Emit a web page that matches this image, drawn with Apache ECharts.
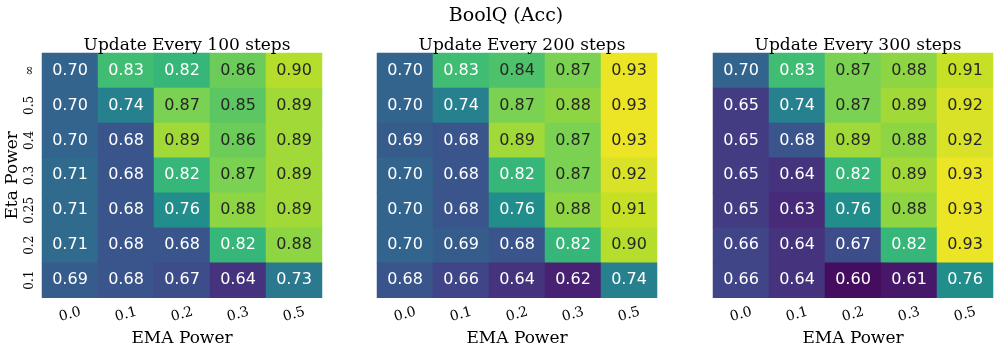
<!DOCTYPE html>
<html><head><meta charset="utf-8">
<script src="https://cdn.jsdelivr.net/npm/echarts@6/dist/echarts.min.js"></script>
<style>html,body{margin:0;padding:0;background:#fff}#c{width:997px;height:352px}</style>
</head><body><div id="c"></div>
<script>
const emaPowers = ['0.0','0.1','0.2','0.3','0.5'];
const etaPowers = ['∞','0.5','0.4','0.3','0.25','0.2','0.1']; // top to bottom
const panelTitles = ['Update Every 100 steps','Update Every 200 steps','Update Every 300 steps'];
const mainTitle = 'BoolQ (Acc)';
const every100 = [
  [0.70,0.83,0.82,0.86,0.90],
  [0.70,0.74,0.87,0.85,0.89],
  [0.70,0.68,0.89,0.86,0.89],
  [0.71,0.68,0.82,0.87,0.89],
  [0.71,0.68,0.76,0.88,0.89],
  [0.71,0.68,0.68,0.82,0.88],
  [0.69,0.68,0.67,0.64,0.73]
];
const every200 = [
  [0.70,0.83,0.84,0.87,0.93],
  [0.70,0.74,0.87,0.88,0.93],
  [0.69,0.68,0.89,0.87,0.93],
  [0.70,0.68,0.82,0.87,0.92],
  [0.70,0.68,0.76,0.88,0.91],
  [0.70,0.69,0.68,0.82,0.90],
  [0.68,0.66,0.64,0.62,0.74]
];
const every300 = [
  [0.70,0.83,0.87,0.88,0.91],
  [0.65,0.74,0.87,0.89,0.92],
  [0.65,0.68,0.89,0.88,0.92],
  [0.65,0.64,0.82,0.89,0.93],
  [0.65,0.63,0.76,0.88,0.93],
  [0.66,0.64,0.67,0.82,0.93],
  [0.66,0.64,0.60,0.61,0.76]
];
const panels = [every100, every200, every300];

const viridis = ['#440154','#482475','#414487','#355f8d','#2a788e','#21918c','#22a884','#44bf70','#7ad151','#bddf26','#fde725'];
const vmin = 0.588, vmax = 0.94;

function hex2rgb(h){return [parseInt(h.substr(1,2),16),parseInt(h.substr(3,2),16),parseInt(h.substr(5,2),16)];}
function colorAt(v){
  let t = (v - vmin)/(vmax - vmin); t = Math.max(0, Math.min(1, t));
  const p = t*(viridis.length-1); const i = Math.min(Math.floor(p), viridis.length-2); const f = p - i;
  const a = hex2rgb(viridis[i]), b = hex2rgb(viridis[i+1]);
  return a.map((c,k)=>c+(b[k]-c)*f);
}
function lum(rgb){
  const l = rgb.map(c=>{c/=255;return c<=0.03928?c/12.92:Math.pow((c+0.055)/1.055,2.4);});
  return 0.2126*l[0]+0.7152*l[1]+0.0722*l[2];
}

const gridLefts = [42, 377, 713];
const gridW = 280, gridTop = 53, gridH = 251;
const serif = 'DejaVu Serif';
const yCats = etaPowers.slice().reverse();

const grids = [], xAxes = [], yAxes = [], series = [], titles = [];
titles.push({text: mainTitle, left: 501, top: 2, textAlign: 'center',
  textStyle:{fontFamily: serif, fontSize: 19, fontWeight: 'normal', color: '#000'}});
panels.forEach((mat, p) => {
  grids.push({left: gridLefts[p], top: gridTop, width: gridW, height: gridH});
  titles.push({text: panelTitles[p], left: gridLefts[p] + gridW/2, top: 32, textAlign: 'center',
    textStyle:{fontFamily: serif, fontSize: 17, fontWeight: 'normal', color: '#000'}});
  xAxes.push({type: 'category', gridIndex: p, data: emaPowers,
    name: 'EMA Power', nameLocation: 'middle', nameGap: 25,
    nameTextStyle: {fontFamily: serif, fontSize: 17, color: '#000'},
    axisLine: {show: false}, axisTick: {show: false}, splitLine: {show: false},
    axisLabel: {interval: 0, fontFamily: serif, fontSize: 14, color: '#000', rotate: 15,
      align: 'center', verticalAlign: 'middle', margin: 17}});
  yAxes.push({type: 'category', gridIndex: p, data: yCats,
    name: p === 0 ? 'Eta Power' : '', nameLocation: 'middle', nameGap: 21, nameRotate: 90,
    nameTextStyle: {fontFamily: serif, fontSize: 17, color: '#000'},
    axisLine: {show: false}, axisTick: {show: false}, splitLine: {show: false},
    axisLabel: {show: p === 0, interval: 0, fontFamily: serif, fontSize: 12, color: '#000', rotate: 90, margin: 6}});
  const data = [];
  mat.forEach((row, r) => {
    row.forEach((v, c) => {
      const dark = lum(colorAt(v)) > 0.408;
      data.push({value: [c, yCats.indexOf(etaPowers[r]), v],
        label: {color: dark ? '#262626' : '#ffffff'}});
    });
  });
  series.push({type: 'heatmap', xAxisIndex: p, yAxisIndex: p, data: data,
    label: {show: true, fontFamily: 'DejaVu Sans', fontSize: 16,
      formatter: d => d.value[2].toFixed(2)},
    itemStyle: {borderWidth: 0},
    emphasis: {disabled: true}});
});

const chart = echarts.init(document.getElementById('c'), null, {renderer: 'canvas'});
chart.setOption({
  animation: false,
  backgroundColor: '#fff',
  title: titles,
  grid: grids, xAxis: xAxes, yAxis: yAxes,
  visualMap: {show: false, type: 'continuous', min: vmin, max: vmax, dimension: 2,
    seriesIndex: [0,1,2], inRange: {color: viridis}},
  series: series
});
</script></body></html>
